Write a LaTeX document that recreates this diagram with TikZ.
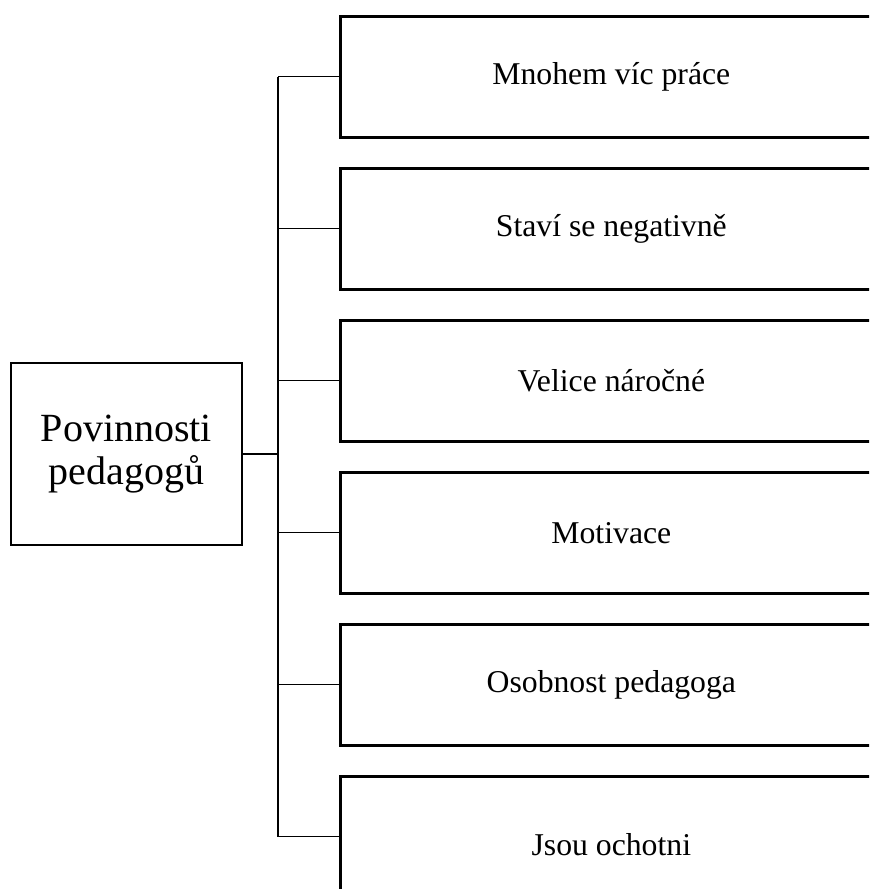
\documentclass[tikz,border=0pt]{standalone}
\usepackage{fontspec}
\setmainfont{Liberation Serif}
\begin{document}
\begin{tikzpicture}[x=0.75pt,y=-0.75pt,
 box/.style={draw, line width=2pt, minimum width=406.5pt, minimum height=90.75pt, anchor=north west, font=\fontsize{23.8}{28}\selectfont, inner sep=0pt},
 root/.style={draw, line width=2pt, minimum width=173.25pt, minimum height=136.5pt, align=center, inner sep=0pt, font=\fontsize{30}{32}\selectfont},
 link/.style={line width=0.9pt}]
\clip (0,0) rectangle (869,889);
\node[root] (r) at (126.5,454) {Povinnosti\\pedagogů};
\node[box] (b1) at (339,15) {Mnohem víc práce};
\node[box] (b2) at (339,167) {Staví se negativně};
\node[box] (b3) at (339,319) {Velice náročné};
\node[box] (b4) at (339,471) {Motivace};
\node[box] (b5) at (339,623) {Osobnost pedagoga};
\node[box] (b6) at (339,775) {\raisebox{-14pt}[0pt][0pt]{Jsou ochotni}};
\coordinate (t) at (278,454);
\draw[link] (r.east) -- (t);
\draw[link] (b1.west -| t) -- (b6.west -| t);
\foreach \i in {1,...,6} {
  \draw[link] (b\i.west) -- (b\i.west -| t);
}
\end{tikzpicture}
\end{document}
